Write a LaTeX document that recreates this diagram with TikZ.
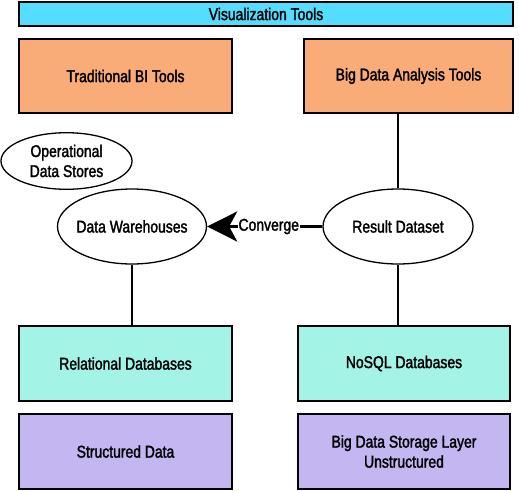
\documentclass[tikz,border=0pt]{standalone}
\usepackage{fontspec}
\setmainfont[FakeStretch=0.82,FakeBold=1.8]{Liberation Sans}
\usetikzlibrary{shapes.geometric,arrows.meta}
\definecolor{viscol}{HTML}{55DDFF}
\definecolor{toolcol}{HTML}{F9AB78}
\definecolor{dbcol}{HTML}{A3F3E6}
\definecolor{datacol}{HTML}{C3B6F1}
\newcommand{\zw}[1]{\makebox[0pt][c]{\raisebox{-2pt}[\height][\depth]{\begin{tabular}{@{}c@{}}#1\end{tabular}}}}
\tikzset{
  txt/.style={font=\fontsize{17}{20}\selectfont},
  box/.style={draw=black, line width=1.3pt, align=center, txt},
  ell/.style={draw=black, line width=1.3pt, ellipse, inner sep=0pt, txt},
  link/.style={line width=1.3pt},
}
\begin{document}
\begin{tikzpicture}[x=1pt,y=-1pt]
\useasboundingbox (0,0) rectangle (519,490);
\node[box, fill=viscol, minimum width=494pt, minimum height=24pt, inner sep=0pt] (vis) at (266,14) {Visualization Tools};
\node[box, fill=toolcol, minimum width=213pt, minimum height=74pt] (bi) at (125.5,76) {Traditional BI Tools};
\node[box, fill=toolcol, minimum width=209pt, minimum height=74pt] (bda) at (408.5,76) {Big Data Analysis Tools};
\node[ell, minimum width=131pt, minimum height=56pt] (ods) at (66.5,161) {\zw{Operational\\Data Stores}};
\node[ell, minimum width=149pt, minimum height=75pt] (dw) at (132,226.5) {\zw{Data Warehouses}};
\node[ell, minimum width=150pt, minimum height=75pt] (rd) at (398,226.5) {\zw{Result Dataset}};
\node[box, fill=dbcol, minimum width=213pt, minimum height=75pt] (rel) at (125.5,363.5) {Relational Databases};
\node[box, fill=dbcol, minimum width=212pt, minimum height=75pt] (nosql) at (404,363.5) {NoSQL Databases};
\node[box, fill=datacol, minimum width=213pt, minimum height=75pt] (sd) at (125.5,451.5) {Structured Data};
\node[box, fill=datacol, minimum width=212pt, minimum height=75pt] (bds) at (404,451.5) {Big Data Storage Layer\\Unstructured};
\draw[link] (rd.north) -- (rd.north |- bda.south);
\draw[link] (dw.south) -- (dw.south |- rel.north);
\draw[link] (rd.south) -- (rd.south |- nosql.north);
\draw[line width=3pt, -{Stealth[length=30pt,width=30pt,inset=8pt]}] (rd.west) -- node[fill=white, inner sep=1pt, txt, xshift=4pt] (conv) {Converge} (dw.east);
\end{tikzpicture}
\end{document}
